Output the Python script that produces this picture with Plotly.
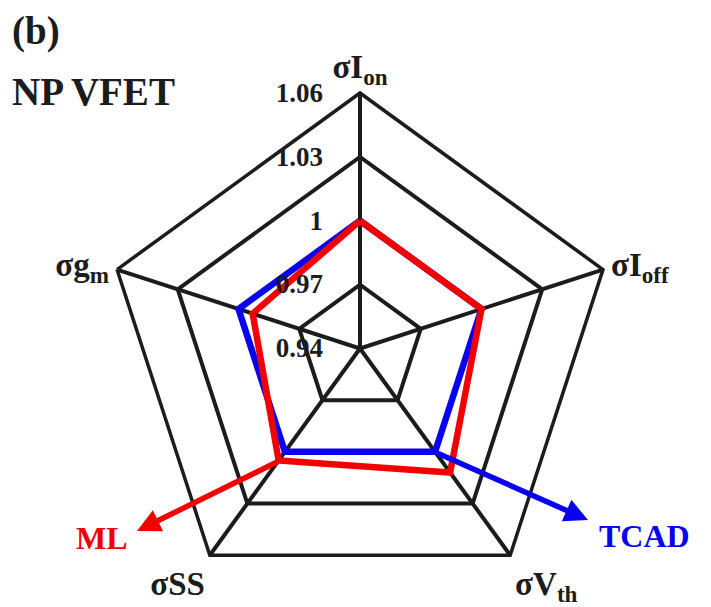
import plotly.graph_objects as go

# Normalized variability metrics (NP VFET)
categories = ["σI<sub>on</sub>", "σI<sub>off</sub>", "σV<sub>th</sub>", "σSS", "σg<sub>m</sub>"]
tcad_values = [1.000, 1.000, 1.000, 1.000, 1.000]
ml_values = [1.000, 1.000, 1.012, 1.005, 0.993]
radial_ticks = [0.94, 0.97, 1.00, 1.03, 1.06]
radial_ticktext = ["0.94", "0.97", "1", "1.03", "1.06"]

W, H = 711, 607
SERIF = "Liberation Serif"
INK = "#1c1c1c"


def closed(seq):
    return list(seq) + [seq[0]]


fig = go.Figure()
fig.add_trace(go.Scatterpolar(
    r=closed(tcad_values), theta=closed(categories), mode="lines",
    line=dict(color="#0a00f0", width=6.5), name="TCAD", showlegend=False,
))
fig.add_trace(go.Scatterpolar(
    r=closed(ml_values), theta=closed(categories), mode="lines",
    line=dict(color="#f20000", width=6.5), name="ML", showlegend=False,
))


def px(x, y):
    return x / W, 1 - y / H


annotations = []
for text, (x, y), anchor in [
    ("(b)", (10, 31), "left"),
    ("NP VFET", (10, 91), "left"),
]:
    xp, yp = px(x, y)
    annotations.append(dict(
        text=text, x=xp, y=yp, xref="paper", yref="paper", showarrow=False,
        xanchor=anchor, yanchor="middle",
        font=dict(family=SERIF, size=39, color=INK, weight="bold"),
    ))

# series labels with arrows pointing away from the polygon
for text, color, (lx, ly), (hx, hy), (tx, ty) in [
    ("ML", "#f20000", (102, 538), (137, 531), (279, 461)),
    ("TCAD", "#0a00f0", (644, 536), (588, 520), (435, 452)),
]:
    xp, yp = px(lx, ly)
    annotations.append(dict(
        text=text, x=xp, y=yp, xref="paper", yref="paper", showarrow=False,
        xanchor="center", yanchor="middle",
        font=dict(family=SERIF, size=32, color=color, weight="bold"),
    ))
    hxp, hyp = px(hx, hy)
    annotations.append(dict(
        text="", x=hxp, y=hyp, xref="paper", yref="paper", showarrow=True,
        ax=tx - hx, ay=ty - hy, arrowcolor=color, arrowwidth=5.5,
        arrowhead=2, arrowsize=0.85,
    ))

fig.update_layout(
    width=W, height=H,
    margin=dict(l=0, r=0, t=0, b=0),
    paper_bgcolor="white",
    polar=dict(
        domain=dict(x=[104 / W, 616 / W], y=[3 / H, 514 / H]),
        bgcolor="white",
        gridshape="linear",
        radialaxis=dict(
            range=[0.94, 1.06], tickvals=radial_ticks, ticktext=radial_ticktext,
            angle=90, tickangle=90, side="counterclockwise",
            showline=False, showgrid=True, gridcolor="#1c1c1c", gridwidth=3.5,
            ticks="outside", ticklen=27, tickcolor="rgba(0,0,0,0)",
            tickfont=dict(family=SERIF, size=27, color=INK, weight="bold"),
            layer="above traces",
        ),
        angularaxis=dict(
            rotation=90, direction="clockwise",
            showline=True, linecolor="#1c1c1c", linewidth=3.5,
            showgrid=True, gridcolor="#1c1c1c", gridwidth=3.5,
            ticks="", tickfont=dict(family=SERIF, size=33, color=INK, weight="bold"),
        ),
    ),
    annotations=annotations,
)

fig.write_html("out.html")
